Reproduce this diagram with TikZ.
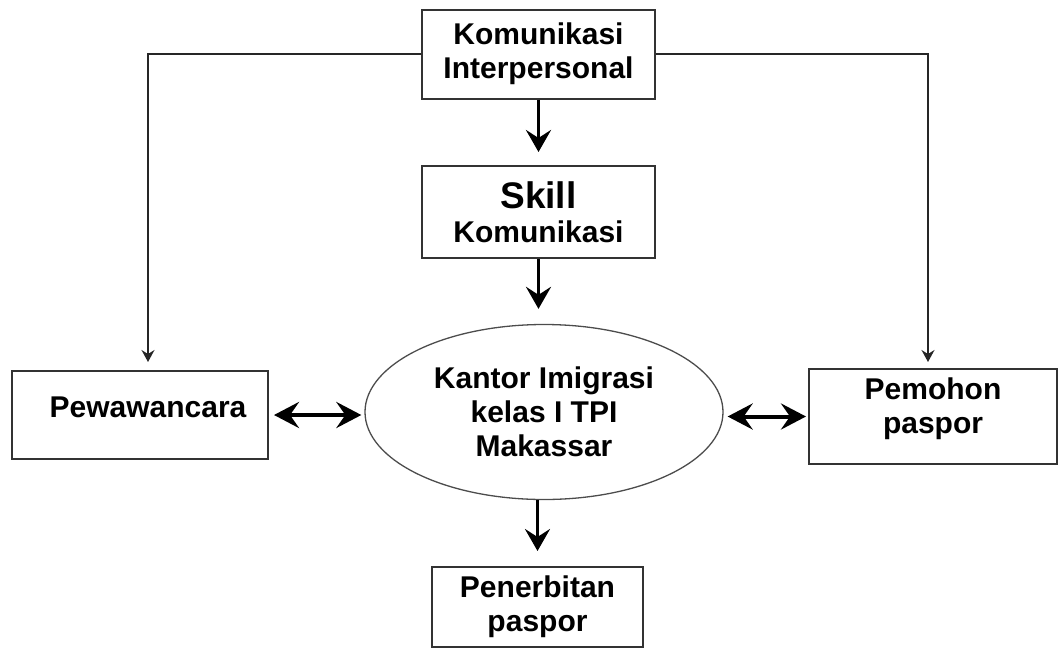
\documentclass[tikz,border=0pt]{standalone}
\usepackage{fontspec}
\setmainfont{Liberation Sans}
\usepackage{tikz}
\usetikzlibrary{positioning,arrows.meta,shapes.geometric}

\begin{document}
\begin{tikzpicture}[
  x=1pt, y=-1pt,
  box/.style={
    draw=black!80,
    line width=2pt,
    align=center,
    inner sep=0pt,
    font=\fontsize{30}{34}\selectfont\bfseries
  },
  oval/.style={
    draw=black!70,
    ellipse,
    line width=1.3pt,
    align=center,
    inner sep=0pt,
    minimum width=358pt,
    minimum height=175pt,
    font=\fontsize{30}{34}\selectfont\bfseries
  },
  arrow/.style={-{Stealth[length=22pt,width=25pt,inset=8pt]}, line width=3.6pt},
  twoway/.style={<->, >={Stealth[length=25pt,width=26pt,inset=9pt]}, line width=4pt},
  link/.style={-{Stealth[length=12pt,width=13pt,inset=4pt]}, line width=1.5pt, draw=black!85}
]
  \useasboundingbox (0,0) rectangle (1059,648);

  \node[box, minimum width=233pt, minimum height=89pt] (komint) at (538.5,54) {Komunikasi\\Interpersonal};
  \node[box, minimum width=233pt, minimum height=92pt] (skill) at (538.5,212) {{\fontsize{37}{40}\selectfont Skill}\\Komunikasi};
  \node[oval] (kantor) at (544,412) {Kantor Imigrasi\\kelas I TPI\\Makassar};
  \node[box, minimum width=256pt, minimum height=88pt, text depth=16pt] (pewa) at (140,415) {\hspace*{16pt}Pewawancara};
  \node[box, minimum width=248pt, minimum height=95pt, text depth=22pt] (pemohon) at (933,416.5) {Pemohon\\paspor};
  \node[box, minimum width=211pt, minimum height=80pt] (terbit) at (537.5,607) {Penerbitan\\paspor};

  \draw[arrow, shorten >=13pt] (komint) -- (skill);
  \draw[arrow, shorten >=15pt] (skill.south) -- (skill.south |- kantor.north);
  \draw[arrow, shorten >=15pt] (kantor.south -| terbit.north) -- (terbit.north);
  \draw[twoway, shorten <=5pt, shorten >=3pt] (pewa.east) -- (pewa.east -| kantor.west);
  \draw[twoway, shorten <=4pt, shorten >=2pt] (pemohon.west -| kantor.east) -- (pemohon.west);

  \draw[link, shorten >=8pt] (komint.west) -| ([xshift=8pt]pewa.north);
  \draw[link, shorten >=6pt] (komint.east) -| ([xshift=-5pt]pemohon.north);
\end{tikzpicture}
\end{document}
